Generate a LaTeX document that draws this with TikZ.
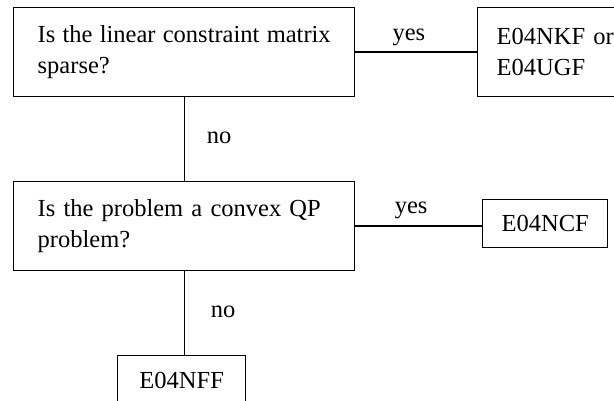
\documentclass[tikz,border=0pt]{standalone}
\usepackage{fontspec}
\setmainfont{Liberation Serif}
\begin{document}
\begin{tikzpicture}[x=1pt,y=-1pt,
  box/.style={draw, line width=1.4pt, rectangle, anchor=north west,
    font=\fontsize{24.5}{31}\selectfont, inner ysep=0pt},
  lbl/.style={font=\fontsize{24.5}{31}\selectfont, inner sep=0pt},
  conn/.style={line width=1.4pt}]
\path[use as bounding box, clip] (0,0) rectangle (614,401);
\fill[white] (0,0) rectangle (614,401);
\node[box, text width=293pt, align=justify, inner xsep=24pt, minimum height=89pt] (q1) at (13,7)
  {Is the linear constraint matrix sparse?};
\node[box, text width=140pt, align=left, inner xsep=19pt, minimum height=89pt] (nkf) at (477,7)
  {E04NKF or\\E04UGF};
\node[box, text width=293pt, align=left, inner xsep=24pt, minimum height=89pt] (q2) at (13,181)
  {Is the problem a convex QP problem?};
\node[box, minimum width=125pt, minimum height=48pt, align=center, inner xsep=0pt] (ncf) at (482,199)
  {E04NCF};
\node[box, minimum width=128pt, minimum height=50pt, align=center, inner xsep=0pt] (nff) at (117,355)
  {E04NFF};
\draw[conn] (q1.east) -- node[lbl, pos=0.44, anchor=base, yshift=12pt] {yes} (nkf.west);
\draw[conn] (q1.south) -- node[lbl, pos=0.553, anchor=base west, xshift=22pt] {no} (q2.north);
\draw[conn] (q2.east) -- node[lbl, pos=0.44, anchor=base, yshift=13pt] {yes} (q2.east -| ncf.west);
\draw[conn] (q2.south) -- node[lbl, pos=0.553, anchor=base west, xshift=26pt] {no} (q2.south |- nff.north);
\end{tikzpicture}
\end{document}
